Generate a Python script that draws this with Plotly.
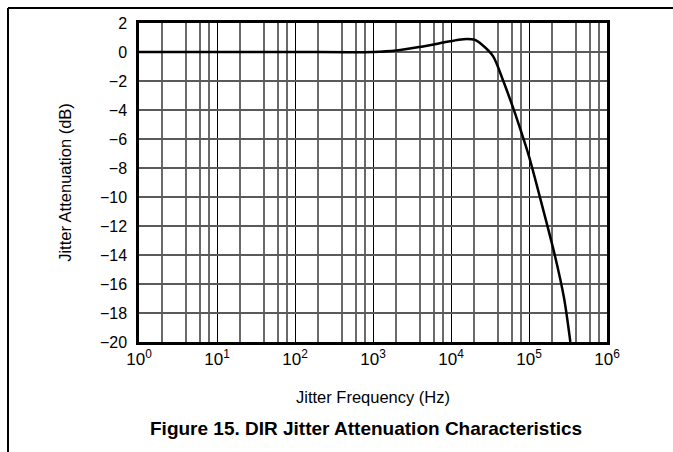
import plotly.graph_objects as go

# Data
freq_hz = [1, 10, 100, 1000, 2000, 4000, 8000, 12600, 16000, 20000, 25000, 34700,
           46800, 63100, 79400, 100000, 141000, 214000, 282000, 339000]
atten_db = [0.0, 0.0, 0.0, 0.0, 0.1, 0.35, 0.65, 0.85, 0.9, 0.85, 0.5, -0.3,
            -2.0, -3.9, -5.5, -7.2, -10.2, -14.0, -17.0, -20.0]

x_tickvals = [1, 10, 100, 1000, 10000, 100000, 1000000]
x_ticktext = ["10<sup>0</sup>", "10<sup>1</sup>", "10<sup>2</sup>", "10<sup>3</sup>",
              "10<sup>4</sup>", "10<sup>5</sup>", "10<sup>6</sup>"]
x_minor_vals = [m * d for d in [1, 10, 100, 1000, 10000, 100000] for m in (2, 4, 6, 8)]
y_tickvals = [2, 0, -2, -4, -6, -8, -10, -12, -14, -16, -18, -20]
y_ticktext = ["2", "0", "−2", "−4", "−6", "−8", "−10", "−12", "−14", "−16", "−18", "−20"]

fig = go.Figure()
fig.add_trace(go.Scatter(x=freq_hz, y=atten_db, mode="lines",
                         line=dict(color="black", width=2.5, shape="spline", smoothing=0.8),
                         showlegend=False, hoverinfo="skip"))

font_fam = "Liberation Sans, Arial, sans-serif"

fig.update_layout(
    width=673, height=452,
    margin=dict(l=139, r=66, t=23, b=110),
    paper_bgcolor="white", plot_bgcolor="white",
    font=dict(family=font_fam, color="black", size=15),
    xaxis=dict(type="log", range=[0, 6], tickvals=x_tickvals, ticktext=x_ticktext,
               showgrid=True, gridcolor="black", gridwidth=1.2,
               minor=dict(tickvals=x_minor_vals, showgrid=True, gridcolor="#6a6a6a",
                          gridwidth=1.5, ticks=""),
               showline=True, linecolor="black", linewidth=2.5, mirror=True,
               ticks="", zeroline=False,
               title=dict(text="Jitter Frequency (Hz)", font=dict(size=16.5), standoff=24),
               tickfont=dict(size=17)),
    yaxis=dict(range=[-20, 2], tickvals=y_tickvals, ticktext=y_ticktext,
               showgrid=True, gridcolor="#5a5a5a", gridwidth=1.5,
               showline=True, linecolor="black", linewidth=2.5, mirror=True,
               ticks="", zeroline=False, ticklabelstandoff=6,
               title=dict(text="Jitter Attenuation (dB)", font=dict(size=16.5), standoff=25),
               tickfont=dict(size=16)),
    shapes=[
        dict(type="line", xref="paper", yref="paper", x0=-0.2799, x1=-0.2799, y0=1.047, y1=-0.4,
             line=dict(color="black", width=2)),
        dict(type="line", xref="paper", yref="paper", x0=-0.2799, x1=1.2, y0=1.047, y1=1.047,
             line=dict(color="black", width=2)),
    ],
    annotations=[
        dict(text="<b>Figure 15. DIR Jitter Attenuation Characteristics</b>",
             xref="paper", yref="paper", x=(366 - 139) / 468, y=(342 - 428) / 319,
             xanchor="center", yanchor="middle", showarrow=False,
             font=dict(size=19, family=font_fam, color="black")),
    ],
)

fig.write_html("out.html",
               config={"displayModeBar": False},
               post_script="document.body.style.margin='0';document.body.style.overflow='hidden';")
